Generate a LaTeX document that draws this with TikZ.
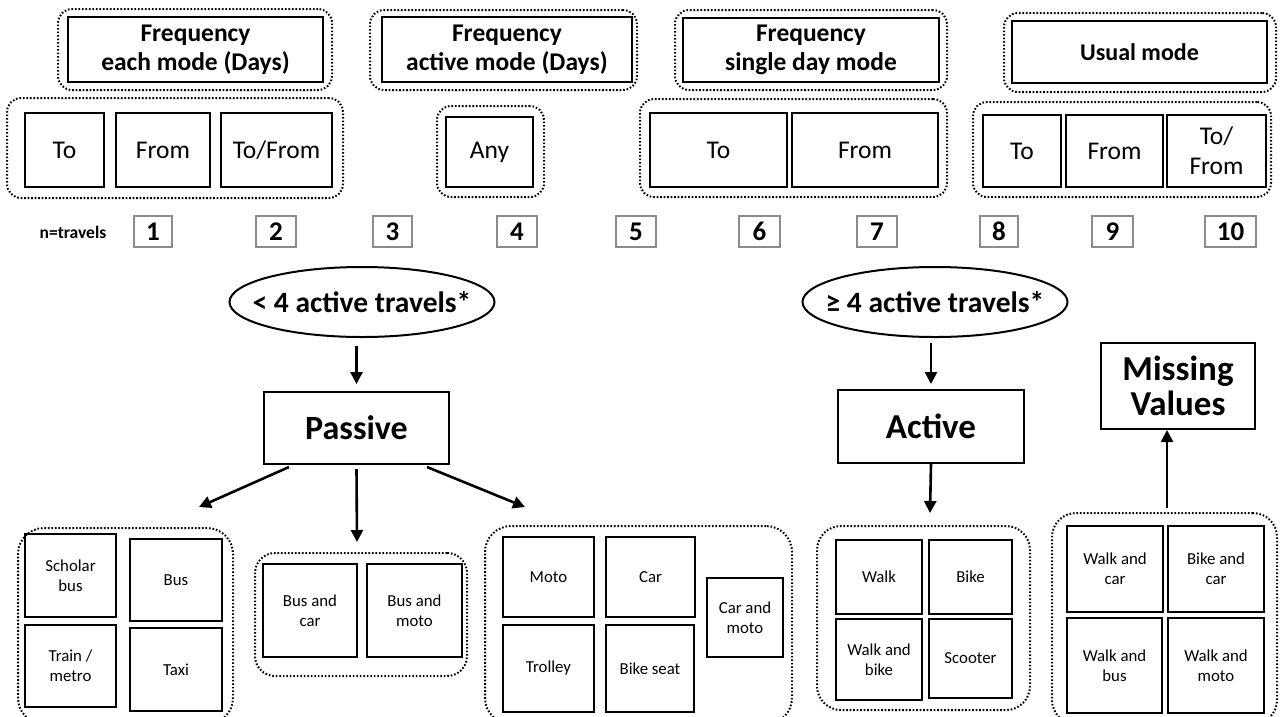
\documentclass[tikz,border=0pt]{standalone}
\usepackage{fontspec}
\setmainfont{Carlito}
\usetikzlibrary{arrows.meta,shapes.geometric}
\tikzset{
  solidbox/.style={draw=black, line width=2pt, inner sep=0pt, align=center},
  numbox/.style={draw=black!45, line width=2pt, inner sep=0pt, font=\bfseries\fontsize{27}{28}\selectfont},
  grp/.style={draw=black, line width=2pt, dash pattern=on 1.6pt off 1.9pt, rounded corners=#1, inner sep=0pt},
  grp/.default=14pt,
  hdr/.style={font=\bfseries\fontsize{25.5}{29}\selectfont},
  rowtxt/.style={font=\fontsize{25.5}{30}\selectfont},
  small/.style={font=\fontsize{16.8}{20}\selectfont},
  arr/.style={line width=2.6pt, -{Triangle[length=12pt,width=12pt]}},
  ell/.style={draw=black, line width=2pt, ellipse, minimum width=265pt, minimum height=70pt, inner xsep=-30pt, inner ysep=0pt, font=\bfseries\fontsize{29.5}{32}\selectfont}
}
\newcommand\Bx[7]{\node[#1, minimum width={(#4)-(#2)}, minimum height={(#5)-(#3)}] (#6) at ({((#2)+(#4))/2},{((#3)+(#5))/2}) {#7};}
\begin{document}
\begin{tikzpicture}[x=1pt,y=-1pt]
\useasboundingbox (0,0) rectangle (1282,716);
% headers
\Bx{grp}{58}{9}{332}{90}{gh1}{}
\Bx{solidbox,hdr}{68}{17}{323}{82}{h1}{Frequency\\each mode (Days)}
\Bx{grp}{370}{10}{637}{90}{gh2}{}
\Bx{solidbox,hdr}{382}{17}{632}{82}{h2}{Frequency\\active mode (Days)}
\Bx{grp}{675}{10}{947}{90}{gh3}{}
\Bx{solidbox,hdr}{683}{18}{939}{82}{h3}{Frequency\\single day mode}
\Bx{grp}{1004}{13}{1276}{92}{gh4}{}
\Bx{solidbox,hdr,font=\bfseries\fontsize{24}{28}\selectfont}{1012}{21}{1267}{83}{h4}{Usual mode}
% rows
\Bx{grp}{7}{98}{343}{198}{gr1}{}
\Bx{solidbox,rowtxt}{25}{113}{104}{187}{r1a}{To}
\Bx{solidbox,rowtxt}{116}{113}{210}{187}{r1b}{From}
\Bx{solidbox,rowtxt}{221}{113}{332}{187}{r1c}{To/From}
\Bx{grp}{437}{106}{544}{197}{gr2}{}
\Bx{solidbox,rowtxt}{446}{117}{533}{187}{r2a}{Any}
\Bx{grp}{640}{99}{947}{197}{gr3}{}
\Bx{solidbox,rowtxt}{650}{113}{787}{187}{r3a}{To}
\Bx{solidbox,rowtxt}{792}{113}{938}{187}{r3b}{From}
\Bx{grp}{973}{102}{1271}{197}{gr4}{}
\Bx{solidbox,rowtxt}{983}{115}{1061}{187}{r4a}{To}
\Bx{solidbox,rowtxt}{1066}{115}{1163}{187}{r4b}{From}
\Bx{solidbox,rowtxt}{1167}{115}{1266}{187}{r4c}{To/\\From}
% numbers
\node[font=\bfseries\fontsize{17.5}{19}\selectfont] (ntr) at (73,232) {n=travels};
\Bx{numbox}{134}{216}{172}{247}{n1}{1}
\Bx{numbox}{256}{216}{296}{247}{n2}{2}
\Bx{numbox}{373}{216}{412}{247}{n3}{3}
\Bx{numbox}{497}{216}{537}{247}{n4}{4}
\Bx{numbox}{616}{216}{656}{247}{n5}{5}
\Bx{numbox}{739}{216}{780}{247}{n6}{6}
\Bx{numbox}{857}{216}{897}{247}{n7}{7}
\Bx{numbox}{980}{216}{1018}{247}{n8}{8}
\Bx{numbox}{1092}{216}{1133}{247}{n9}{9}
\Bx{numbox}{1205}{216}{1256}{247}{n10}{10}
% ellipses
\node[ell] (e1) at (362,302) {< 4 active travels*};
\node[ell] (e2) at (935,302) {≥ 4 active travels*};
% main boxes
\Bx{solidbox,font=\bfseries\fontsize{34}{36}\selectfont}{264}{392}{449}{464}{passive}{Passive}
\Bx{solidbox,font=\bfseries\fontsize{35}{36}\selectfont}{838}{390}{1024}{463}{active}{Active}
\Bx{solidbox,font=\bfseries\fontsize{35}{35}\selectfont}{1101}{343}{1255}{429}{missing}{Missing\\Values}
% bottom groups
\Bx{grp=26pt}{18}{528}{233}{724}{g1}{}
\Bx{solidbox,small}{25}{534}{116}{617}{b1}{Scholar\\bus}
\Bx{solidbox,small}{130}{539}{222}{621}{b2}{Bus}
\Bx{solidbox,small}{25}{625}{116}{707}{b3}{Train /\\metro}
\Bx{solidbox,small}{130}{628}{222}{711}{b4}{Taxi}
\Bx{grp=20pt}{255}{553}{467}{676}{g2}{}
\Bx{solidbox,small}{263}{564}{357}{657}{b5}{Bus and\\car}
\Bx{solidbox,small}{367}{564}{462}{657}{b6}{Bus and\\moto}
\Bx{grp=26pt}{485}{526}{792}{724}{g3}{}
\Bx{solidbox,small}{503}{537}{594}{617}{b7}{Moto}
\Bx{solidbox,small}{606}{537}{695}{617}{b8}{Car}
\Bx{solidbox,small}{503}{625}{594}{712}{b9}{Trolley}
\Bx{solidbox,small}{606}{625}{694}{712}{b10}{Bike seat}
\Bx{solidbox,small}{707}{578}{783}{657}{b11}{Car and\\moto}
\Bx{grp=24pt}{817}{526}{1030}{710}{g4}{}
\Bx{solidbox,small}{836}{540}{922}{614}{b12}{Walk}
\Bx{solidbox,small}{929}{540}{1012}{614}{b13}{Bike}
\Bx{solidbox,small}{836}{619}{922}{700}{b14}{Walk and\\bike}
\Bx{solidbox,small}{929}{619}{1012}{698}{b15}{Scooter}
\Bx{grp=24pt}{1052}{513}{1277}{724}{g5}{}
\Bx{solidbox,small}{1067}{526}{1163}{612}{b16}{Walk and\\car}
\Bx{solidbox,small}{1168}{526}{1264}{612}{b17}{Bike and\\car}
\Bx{solidbox,small}{1067}{618}{1162}{713}{b18}{Walk and\\bus}
\Bx{solidbox,small}{1168}{618}{1264}{713}{b19}{Walk and\\moto}
% arrow ends
\coordinate (pl) at (199,507);
\coordinate (pm) at (357,542);
\coordinate (pr) at (525,507);
\coordinate (ad) at (930,513);
\coordinate (mu) at (1167,508);
% arrows
\draw[arr] ([yshift=-8pt]e1.south -| passive.north) -- ([yshift=7pt]passive.north);
\draw[arr] ([yshift=-5pt]e2.south -| active.north) -- ([yshift=5pt]active.north);
\draw[arr] ([xshift=26pt,yshift=-2pt]passive.south west) -- (pl);
\draw[arr] ([yshift=-4pt]passive.south) -- (pm);
\draw[arr] ([xshift=-23pt,yshift=-2pt]passive.south east) -- (pr);
\draw[arr] (active.south) -- (ad);
\draw[arr] (mu) -- (missing.south -| mu);
\end{tikzpicture}
\end{document}
